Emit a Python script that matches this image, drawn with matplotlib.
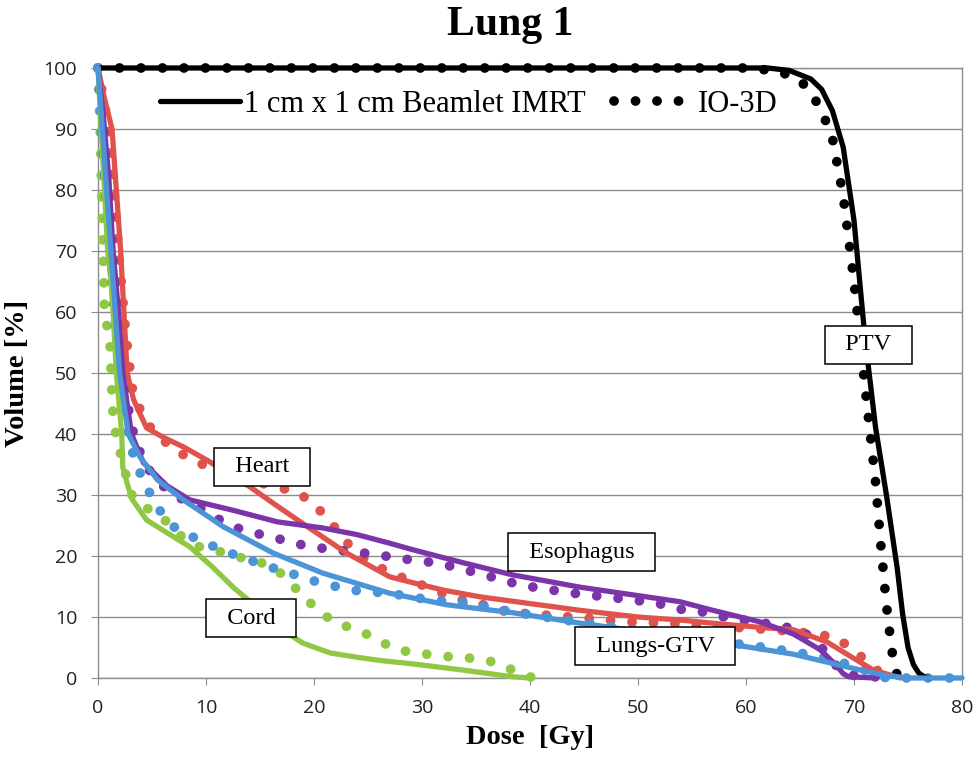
import matplotlib
matplotlib.use("Agg")
import matplotlib.pyplot as plt
from matplotlib.lines import Line2D

# dose-volume histogram values (dose in Gy, volume in %)
ptv_imrt_dose = [0, 62, 64, 66, 67, 68, 69, 70, 71, 72, 73, 74, 74.5, 75, 75.5, 76, 76.5, 77]
ptv_imrt_vol = [100, 100, 99.6, 98.2, 96.5, 93, 87, 75, 56, 41, 30, 18, 10.5, 5, 2.2, 0.8, 0.2, 0]
ptv_io_dose = [0, 60, 63, 65, 66, 67, 68, 69, 70, 71, 72, 72.5, 73, 73.5, 74]
ptv_io_vol = [100, 100, 99.5, 98, 96, 93, 88.5, 79, 65, 48, 32, 21.5, 12, 4.5, 0.3]

heart_imrt_dose = [0, 0.6, 1.3, 1.7, 2.1, 2.4, 2.7, 3.3, 4.5, 6, 8, 10.1, 12, 14.1, 16.5, 19.4, 23, 27,
                   29.2, 32, 35.4, 40, 44.6, 50, 53.9, 58, 62, 64.4, 67.5, 69.9, 71.8, 74.3]
heart_imrt_vol = [100, 95, 90, 80, 70, 60, 50, 45.6, 41, 39.5, 37.8, 35.7, 33.6, 31.3, 28.3, 24.8, 20.5, 16.6,
                  15.6, 14.4, 13.3, 12.2, 11.1, 10, 9.5, 8.8, 8.2, 7.9, 5.9, 3.3, 1.3, 0]
heart_io_dose = [0, 0.8, 1.5, 2.0, 2.6, 3.2, 3.9, 4.8, 6, 7.6, 9.4, 12, 14.5, 16.6, 18.4, 19.9, 21.2, 22.5,
                 23.6, 25.2, 26.9, 28.7, 30.5, 32.3, 34.2, 36, 37.9, 41.6, 45.3, 49, 52.7, 56, 60, 64,
                 66.5, 68.4, 69.9, 71.3, 72.5, 73.5]
heart_io_vol = [100, 92, 80, 68, 56, 47.2, 44, 41.2, 39, 36.9, 35.2, 33.5, 32.2, 31.3, 30.5, 28.7, 26.2, 23.5,
                21, 18.9, 17.4, 16.1, 14.9, 13.6, 12.5, 11.9, 10.8, 10.3, 9.8, 9.2, 9.0, 8.6, 8.2, 7.7,
                7.2, 6.6, 4.6, 2.6, 0.7, 0]

eso_imrt_dose = [0, 0.5, 1.0, 1.4, 1.9, 2.3, 3.1, 4.2, 6.4, 8.5, 12.5, 16.6, 20.8, 24, 27, 29.2, 33.8, 38.4,
                 44.6, 50.8, 53.9, 56.7, 61.3, 64.4, 66.9, 68.4, 69, 69.5, 72]
eso_imrt_vol = [100, 92, 82, 70, 60, 50, 40, 35.3, 31.5, 29.2, 27.5, 25.6, 24.6, 23.5, 22.1, 21, 18.9, 16.9,
                14.9, 13.3, 12.5, 11.2, 9.2, 7.2, 4.6, 2, 0.7, 0.2, 0]
eso_io_dose = [0, 0.5, 1.0, 1.5, 2.0, 2.6, 3.3, 4.3, 6, 7.6, 9.4, 11, 12.5, 14.4, 16.2, 18.1, 19.9, 21.8,
               23.6, 25.5, 27.3, 29.2, 31.2, 33, 34.7, 36.8, 38.4, 40.3, 42.1, 44, 48, 51.8, 53.4, 55.1,
               58.2, 62, 65, 66.6, 67.5, 68.7, 69.3, 71, 73.5]
eso_io_vol = [100, 90, 78, 66, 55, 46, 40, 35, 31.5, 29.5, 28, 26.2, 24.8, 23.8, 23.1, 22.1, 21.5, 21,
              20.7, 20.3, 19.8, 19.3, 18.9, 18.2, 17.4, 16.4, 15.6, 14.9, 14.4, 13.9, 13.1, 12.3, 11.3, 11.2,
              9.9, 8.9, 7.9, 5.9, 3.9, 1.3, 0.5, 0.3, 0]

lung_imrt_dose = [0, 0.4, 0.8, 1.2, 1.6, 2.0, 2.8, 3.9, 5.5, 7.9, 11.6, 16.2, 20.8, 27, 32.3, 38.4, 44.6,
                  50, 55, 59.4, 64.4, 67.5, 70.6, 73, 75, 80]
lung_imrt_vol = [100, 90, 80, 70, 60, 50, 40, 36.2, 32.5, 29.2, 24.8, 20.5, 17.2, 13.9, 12, 10.7, 9.0,
                 7.7, 6.4, 5.3, 3.9, 2.6, 1.3, 0.4, 0, 0]
lung_io_dose = [0, 0.3, 0.7, 1.1, 1.5, 2.0, 2.6, 3.2, 3.9, 4.8, 5.7, 7, 8.8, 10.4, 12.2, 14.1, 15.9, 17.8,
                19.6, 21.5, 24, 27, 30.7, 34.4, 38.4, 44, 50, 55, 60.6, 64, 67.5, 70.5, 73, 80]
lung_io_vol = [100, 90, 80, 70, 60, 50, 42, 37, 33.6, 30.3, 27.5, 24.8, 23.1, 21.8, 20.5, 19.3, 18.2, 17.2,
               16.1, 15.2, 14.3, 13.9, 12.8, 12.3, 10.8, 9.3, 7.8, 6.5, 5.3, 4.4, 3.3, 1.6, 0, 0]

cord_imrt_dose = [0, 0.3, 0.6, 0.9, 1.2, 1.4, 1.7, 2.2, 2.3, 2.8, 3.2, 4.5, 6.4, 8.5, 10.6, 12.5, 14.7,
                  16.6, 19, 21.5, 24, 26, 29.2, 33.8, 38.4, 40]
cord_imrt_vol = [100, 90, 80, 70, 65, 60, 50, 40, 34.5, 31.3, 29.2, 25.9, 23.8, 21.5, 18.2, 14.9, 11.6,
                 8.4, 5.7, 4.1, 3.4, 2.9, 2.3, 1.3, 0.2, 0]
cord_io_dose = [0, 0.2, 0.4, 0.6, 1.1, 1.3, 1.4, 1.7, 2.2, 2.7, 3.2, 4.8, 6.4, 7.8, 9.4, 11.3, 13.1, 15,
                16.6, 17.8, 19.2, 20.6, 22.1, 24, 25.6, 27.3, 29.2, 31.1, 32.9, 35.1, 36.9, 38.4, 40.3]
cord_io_vol = [100, 90, 75, 60, 55, 46, 43, 39.5, 36, 32.5, 29.7, 27.5, 25.6, 23.1, 21.5, 20.7, 19.8, 19,
               17.7, 15.6, 13.1, 10.7, 9, 7.9, 6.6, 4.9, 4.1, 3.8, 3.4, 3.2, 2.5, 1.3, 0]

structures = ["PTV", "Heart", "Esophagus", "Cord", "Lungs-GTV"]
colors = ["black", "#e0524c", "#7b35a8", "#90c844", "#4c94d8"]
imrt = [(ptv_imrt_dose, ptv_imrt_vol), (heart_imrt_dose, heart_imrt_vol), (eso_imrt_dose, eso_imrt_vol),
        (cord_imrt_dose, cord_imrt_vol), (lung_imrt_dose, lung_imrt_vol)]
io3d = [(ptv_io_dose, ptv_io_vol), (heart_io_dose, heart_io_vol), (eso_io_dose, eso_io_vol),
        (cord_io_dose, cord_io_vol), (lung_io_dose, lung_io_vol)]

# where the boxed structure labels sit (dose, volume)
label_pos = {"PTV": (71.3, 54.6), "Heart": (15.2, 34.6), "Esophagus": (44.8, 20.6),
             "Cord": (14.2, 9.8), "Lungs-GTV": (51.6, 5.2)}

serif = "Liberation Serif"
dot_style = (0, (0.01, 2.2))

fig = plt.figure(figsize=(9.74, 7.63), dpi=100)
ax = fig.add_axes([0.1006, 0.1114, 0.8871, 0.7995])

for (d, v), c in zip(io3d, colors):
    ax.plot(d, v, color=c, lw=7, linestyle=dot_style, dash_capstyle="round", clip_on=False, zorder=3)
for (d, v), c in zip(imrt, colors):
    ax.plot(d, v, color=c, lw=3.8, solid_capstyle="round", clip_on=False, zorder=4)

for name in structures:
    x, y = label_pos[name]
    ax.text(x, y, "  " + name + "  ", fontsize=17.5, family=serif, ha="center", va="center", zorder=6,
            bbox=dict(boxstyle="square,pad=0.35", fc="white", ec="black", lw=1.1))

handles = [Line2D([], [], color="black", lw=3.8, solid_capstyle="round"),
           Line2D([], [], color="black", lw=7, linestyle=dot_style, dash_capstyle="round")]
ax.legend(handles, ["1 cm x 1 cm Beamlet IMRT", "IO-3D"], loc="center left", bbox_to_anchor=(0.058, 0.94),
          ncol=2, frameon=False, prop={"family": serif, "size": 22}, handlelength=2.6,
          handletextpad=0.15, columnspacing=0.9, borderaxespad=0)

ax.set_xlim(0, 80)
ax.set_ylim(0, 100)
ax.set_xticks(range(0, 81, 10))
ax.set_yticks(range(0, 101, 10))
ax.grid(axis="y", color="#8c8c8c", lw=1)
ax.set_axisbelow(True)
for s in ax.spines.values():
    s.set_color("#8c8c8c")
    s.set_linewidth(1)
ax.tick_params(direction="out", length=5, color="#8c8c8c", labelsize=14, labelcolor="#222222", pad=10)
for lab in ax.get_xticklabels() + ax.get_yticklabels():
    lab.set_family("Open Sans")

ax.set_xlabel("Dose  [Gy]", fontsize=20.5, family=serif, fontweight="bold", labelpad=6)
ax.set_ylabel("Volume [%]", fontsize=20.5, family=serif, fontweight="bold", labelpad=10)
fig.text(0.524, 0.967, "Lung 1", fontsize=30, family=serif, fontweight="bold", ha="center", va="center")

fig.savefig("out.png", dpi=100)
